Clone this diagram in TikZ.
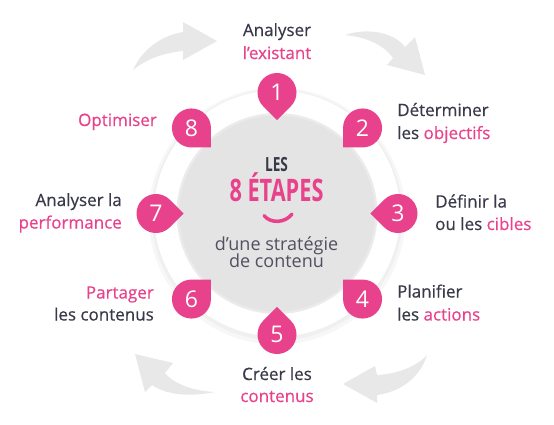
\documentclass[tikz,border=0pt]{standalone}
\usepackage{fontspec}
\setmainfont{Open Sans}
\newfontfamily\narrowfont[FakeStretch=0.7]{Open Sans}
\newfontfamily\stepfont[FakeBold=0.5]{Open Sans}
\usetikzlibrary{positioning}
\definecolor{cpink}{HTML}{E8428C}
\definecolor{cdark}{HTML}{383949}
\definecolor{cgreytext}{HTML}{505060}
\definecolor{cdisk}{HTML}{E4E4E4}
\definecolor{carrow}{HTML}{E8E8E8}
\newcommand{\pk}[1]{\textcolor{cpink}{#1}}
\tikzset{
  every picture/.style={x=1pt, y=1pt},
  steptext/.style={text=cdark, font=\stepfont\fontsize{17}{23}\selectfont, inner sep=0pt},
  numtext/.style={text=white, font=\fontsize{23}{23}\selectfont, inner sep=0pt},
  roundarrow/.style={fill=carrow},
}

\begin{document}
\begin{tikzpicture}
  \useasboundingbox (0,0) rectangle (554,-424);
  % curved arrows round the cycle
  \fill[roundarrow] (133,-70) .. controls (142,-50) and (160,-36) .. (183,-32) -- (183,-22) -- (217,-41) -- (183,-60) -- (183,-51) .. controls (162,-53) and (145,-60) .. cycle;
  \fill[roundarrow] (345,-35) .. controls (365,-28) and (393,-31) .. (405,-47) -- (415,-37) -- (425,-75) -- (387,-65) -- (393,-58) .. controls (383,-44) and (365,-37) .. cycle;
  \fill[roundarrow] (427,-355) .. controls (415,-368) and (395,-374) .. (377,-375) -- (375,-366) -- (343,-384) -- (377,-403) -- (377,-395) .. controls (400,-392) and (420,-378) .. cycle;
  \fill[roundarrow] (215,-392) .. controls (195,-391) and (175,-385) .. (165,-373) -- (173,-363) -- (135,-354) -- (145,-392) -- (152,-385) .. controls (170,-397) and (195,-396) .. cycle;

  \begin{scope}[shift={(277,-213.5)}]
    \fill[black!3] (0,-2.5) circle (128.5);
    \fill[black!6] (0,-1.5) circle (125.5);
    \fill[white] (0,0) circle (123);
    \fill[black!8] (0,0) circle (100.5);
    \fill[cdisk] (0,0) circle (98);
    \foreach \k in {1,...,8} {
      \pgfmathsetmacro{\a}{90-45*(\k-1)}
      \begin{scope}[shift={(\a:121)}, rotate=\a+225]
        \fill[cpink] (0:19.5) arc[start angle=0, end angle=270, radius=19.5] -- (19.5,-19.5) -- cycle;
      \end{scope}
      \node[numtext] (n\k) at (\a:121) {\k};
    }
  \end{scope}

  % centre
  \node[font=\narrowfont\bfseries\fontsize{19.5}{19.5}\selectfont, text=cdark, anchor=base] (les) at (276.5,-171) {LES};
  \node[font=\narrowfont\bfseries\fontsize{31}{31}\selectfont, text=cpink, anchor=base] (etapes) at (276.5,-201) {8 ÉTAPES};
  \draw[cpink, line width=3.5pt, line cap=round] (264,-215.5) .. controls (270,-223.5) and (285,-223.5) .. (292,-214);
  \node[font=\fontsize{18}{18}\selectfont, text=cgreytext, anchor=base] (sub1) at (276.5,-250) {d’une stratégie};
  \node[font=\fontsize{18}{18}\selectfont, text=cgreytext, anchor=base] (sub2) at (276.5,-267.5) {de contenu};

  % step labels
  \node[steptext, anchor=base] (s1a) at (277,-36) {Analyser};
  \node[steptext, anchor=base] (s1b) at (277,-59) {\pk{l’existant}};
  \node[steptext, anchor=base west] (s2a) at (397,-116) {Déterminer};
  \node[steptext, anchor=base west] (s2b) at (397,-139) {les \pk{objectifs}};
  \node[steptext, anchor=base west] (s3a) at (435,-207.5) {Définir la};
  \node[steptext, anchor=base west] (s3b) at (435,-230) {ou les \pk{cibles}};
  \node[steptext, anchor=base west] (s4a) at (397,-297.5) {Planifier};
  \node[steptext, anchor=base west] (s4b) at (397,-320.5) {les \pk{actions}};
  \node[steptext, anchor=base] (s5a) at (277,-380) {Créer les};
  \node[steptext, anchor=base] (s5b) at (277,-402) {\pk{contenus}};
  \node[steptext, anchor=base east] (s6a) at (154,-298.5) {\pk{Partager}};
  \node[steptext, anchor=base east] (s6b) at (154,-320.5) {les contenus};
  \node[steptext, anchor=base east] (s7a) at (122,-206) {Analyser la};
  \node[steptext, anchor=base east] (s7b) at (122,-228.5) {\pk{performance}};
  \node[steptext, anchor=base east] (s8a) at (157,-126) {\pk{Optimiser}};
\end{tikzpicture}
\end{document}
